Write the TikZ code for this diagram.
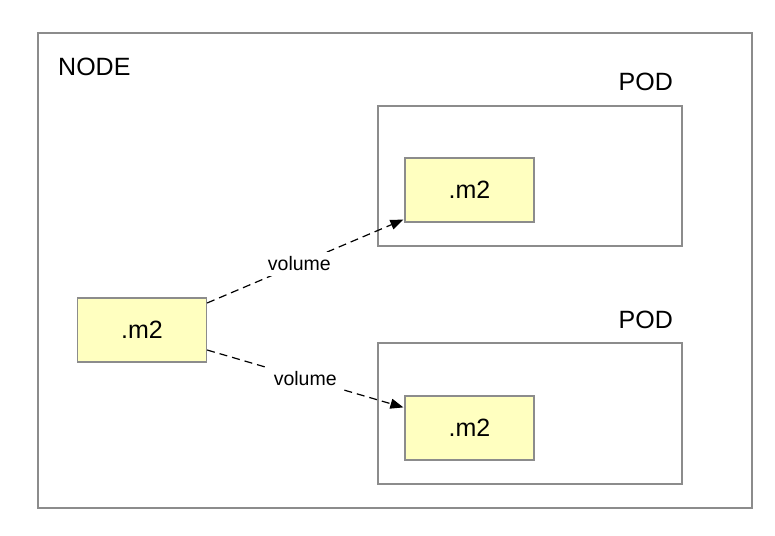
\documentclass[tikz,border=0pt]{standalone}
\usepackage{fontspec}
\setmainfont{Liberation Sans}
\usetikzlibrary{arrows.meta}
\definecolor{boxgray}{HTML}{8C8C8C}
\definecolor{m2yellow}{HTML}{FFFFC0}
\begin{document}
\begin{tikzpicture}[x=1pt,y=-1pt,
	frame/.style={draw=boxgray,line width=1.2pt,rectangle,inner sep=0pt},
	m2box/.style={frame,fill=m2yellow,minimum width=129pt,minimum height=64pt,font=\fontsize{25}{25}\selectfont},
	title/.style={inner sep=0pt,font=\fontsize{25}{25}\selectfont},
	mount/.style={dashed,dash pattern=on 8pt off 5pt,line width=1.2pt,-{Triangle[length=13pt,width=10pt]}},
	vol/.style={fill=white,inner sep=5pt,font=\fontsize{19.5}{19.5}\selectfont}]
				\useasboundingbox (0,0) rectangle (775,535);
				\node[frame,minimum width=714pt,minimum height=475pt] (host) at (395,270.5) {};
				\node[title,anchor=base west] (hostlabel) at (58,75) {NODE};
				\node[frame,minimum width=304pt,minimum height=140pt] (podA) at (530,176) {};
				\node[frame,minimum width=304pt,minimum height=141pt] (podB) at (530,413.5) {};
				\node[title,anchor=base east] (podAlabel) at (673,90) {POD};
				\node[title,anchor=base east] (podBlabel) at (673,328) {POD};
				\node[m2box] (m2src) at (142,330) {.m2};
				\node[m2box] (m2A) at (469.5,190) {.m2};
				\node[m2box] (m2B) at (469.5,428) {.m2};
				\draw[mount] ([yshift=27pt]m2src.east) -- node[vol,pos=0.47] {volume} ([xshift=-1pt,yshift=3pt]m2A.south west);
				\draw[mount] ([yshift=-20pt]m2src.east) -- node[vol,pos=0.5] {volume} ([xshift=-1pt,yshift=-12pt]m2B.north west);
			\end{tikzpicture}
\end{document}
